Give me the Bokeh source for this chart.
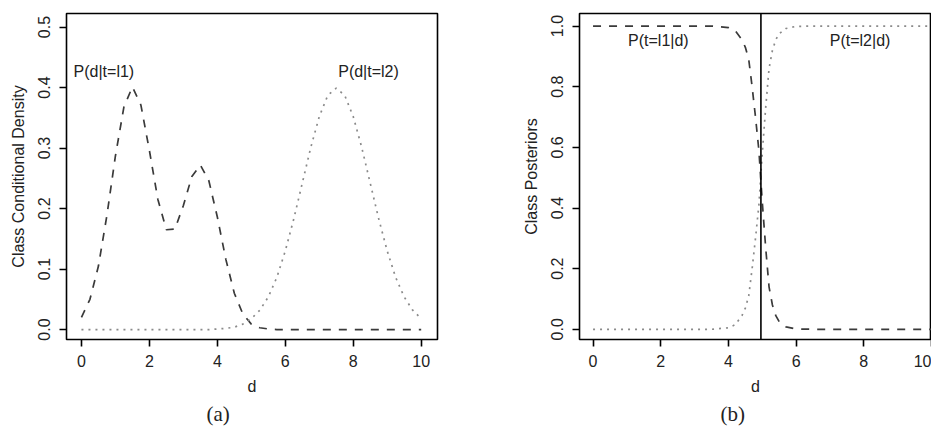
from bokeh.plotting import figure
from bokeh.layouts import row
from bokeh.models import FixedTicker, PrintfTickFormatter, Span, Title, Range1d
from bokeh.core.properties import value
from bokeh.embed import file_html
from bokeh.resources import INLINE

# ---------------- data: panel (a) class conditional densities ----------------
d_a = [0.0, 0.25, 0.5, 0.75, 1.0, 1.25, 1.5, 1.75, 2.0, 2.25, 2.5, 2.75, 3.0, 3.25,
       3.5, 3.75, 4.0, 4.25, 4.5, 4.75, 5.0, 5.25, 5.5, 5.75, 6.0, 6.25, 6.5, 6.75,
       7.0, 7.25, 7.5, 7.75, 8.0, 8.25, 8.5, 8.75, 9.0, 9.25, 9.5, 9.75, 10.0]
dens_l1 = [0.020, 0.050, 0.105, 0.189, 0.287, 0.368, 0.401, 0.371, 0.296, 0.215,
           0.165, 0.166, 0.205, 0.253, 0.272, 0.246, 0.186, 0.116, 0.060, 0.026,
           0.009, 0.003, 0.001, 0.0, 0.0, 0.0, 0.0, 0.0, 0.0, 0.0, 0.0, 0.0, 0.0,
           0.0, 0.0, 0.0, 0.0, 0.0, 0.0, 0.0, 0.0]
dens_l2 = [0.0, 0.0, 0.0, 0.0, 0.0, 0.0, 0.0, 0.0, 0.0, 0.0, 0.0, 0.0, 0.0, 0.0,
           0.0, 0.0, 0.001, 0.002, 0.004, 0.009, 0.018, 0.032, 0.054, 0.086, 0.130,
           0.183, 0.242, 0.301, 0.352, 0.387, 0.399, 0.387, 0.352, 0.301, 0.242,
           0.183, 0.130, 0.086, 0.054, 0.032, 0.018]

# ---------------- data: panel (b) class posteriors ----------------
d_b = [0.0, 0.5, 1.0, 1.5, 2.0, 2.5, 3.0, 3.5, 4.0, 4.2, 4.4, 4.5, 4.6, 4.7, 4.8,
       4.9, 5.0, 5.1, 5.2, 5.3, 5.4, 5.5, 5.7, 6.0, 6.5, 7.0, 7.5, 8.0, 8.5, 9.0,
       9.5, 10.0]
post_l1 = [1.0, 1.0, 1.0, 1.0, 1.0, 1.0, 1.0, 1.0, 0.995, 0.985, 0.955, 0.93, 0.89,
           0.80, 0.70, 0.59, 0.42, 0.27, 0.14, 0.08, 0.045, 0.025, 0.008, 0.001,
           0.0, 0.0, 0.0, 0.0, 0.0, 0.0, 0.0, 0.0]
post_l2 = [0.0, 0.0, 0.0, 0.0, 0.0, 0.0, 0.0, 0.0, 0.005, 0.015, 0.045, 0.07, 0.11,
           0.20, 0.30, 0.41, 0.58, 0.73, 0.86, 0.92, 0.955, 0.975, 0.992, 0.999,
           1.0, 1.0, 1.0, 1.0, 1.0, 1.0, 1.0, 1.0]
boundary = 4.96

# ---------------- labels ----------------
a_text = ["P(d|t=l1)", "P(d|t=l2)"]
a_text_x = [0.66, 8.45]
a_text_y = [0.426, 0.426]
b_text = ["P(t=l1|d)", "P(t=l2|d)"]
b_text_x = [1.93, 7.89]
b_text_y = [0.953, 0.953]
x_ticks = [0, 2, 4, 6, 8, 10]
a_y_ticks = [0.0, 0.1, 0.2, 0.3, 0.4, 0.5]
b_y_ticks = [0.0, 0.2, 0.4, 0.6, 0.8, 1.0]
captions = ["(a)", "(b)"]

SANS = "Liberation Sans"
SERIF = "Liberation Serif"
TXT = "#222222"
DASH_COL = "#3a3a3a"
DOT_COL = "#8a8a8a"


def style(p, ylabel, yticks):
    p.xgrid.grid_line_color = None
    p.ygrid.grid_line_color = None
    p.outline_line_color = "black"
    p.outline_line_width = 1.6
    p.background_fill_color = "white"
    p.border_fill_color = "white"
    p.xaxis.ticker = FixedTicker(ticks=x_ticks)
    p.xaxis.formatter = PrintfTickFormatter(format="%d")
    p.yaxis.ticker = FixedTicker(ticks=yticks)
    p.yaxis.formatter = PrintfTickFormatter(format="%.1f")
    for ax in (p.xaxis, p.yaxis):
        ax.axis_line_color = None
        ax.major_tick_line_color = "black"
        ax.major_tick_line_width = 1.6
        ax.major_tick_out = 7
        ax.major_tick_in = 0
        ax.minor_tick_line_color = None
        ax.major_label_text_font = SANS
        ax.major_label_text_font_size = "16px"
        ax.major_label_text_color = TXT
        ax.axis_label_text_font = SANS
        ax.axis_label_text_font_size = "16px"
        ax.axis_label_text_font_style = "normal"
        ax.axis_label_text_color = TXT
    p.xaxis.axis_label = "d"
    p.xaxis.major_label_standoff = 8
    p.xaxis.axis_label_standoff = 8
    p.yaxis.axis_label = ylabel
    p.yaxis.major_label_orientation = "vertical"
    p.yaxis.major_label_standoff = 9
    p.yaxis.axis_label_standoff = 9


def caption(p, text, offset):
    p.add_layout(Title(text=text, align="left", offset=offset, standoff=5,
                       text_font=SERIF, text_font_size="21px",
                       text_font_style="normal", text_color=TXT), "below")


# ---------------- panel (a) ----------------
pa = figure(width=470, height=428, output_backend="svg", toolbar_location=None,
            x_range=Range1d(-0.44, 10.48), y_range=Range1d(-0.0164, 0.5224),
            min_border_left=66, min_border_right=33, min_border_top=13,
            min_border_bottom=86)
style(pa, "Class Conditional Density", a_y_ticks)
pa.line(d_a, dens_l1, line_color=DASH_COL, line_width=1.7, line_dash="8 8")
pa.line(d_a, dens_l2, line_color=DOT_COL, line_width=1.7, line_dash="2 5")
pa.text(a_text_x, a_text_y, text=a_text, text_font=value(SANS),
        text_font_size="16px", text_color=TXT, text_align="center",
        text_baseline="middle")
caption(pa, captions[0], 140)

# ---------------- panel (b) ----------------
pb = figure(width=461, height=428, output_backend="svg", toolbar_location=None,
            x_range=Range1d(-0.4, 10.0), y_range=Range1d(-0.0337, 1.0415),
            min_border_left=109, min_border_right=0, min_border_top=13,
            min_border_bottom=86)
style(pb, "Class Posteriors", b_y_ticks)
pb.line(d_b, post_l1, line_color=DASH_COL, line_width=1.7, line_dash="8 8")
pb.line(d_b, post_l2, line_color=DOT_COL, line_width=1.7, line_dash="2 5")
pb.add_layout(Span(location=boundary, dimension="height", line_color="black",
                   line_width=1.6))
pb.text(b_text_x, b_text_y, text=b_text, text_font=value(SANS),
        text_font_size="16px", text_color=TXT, text_align="center",
        text_baseline="middle")
caption(pb, captions[1], 141)

layout = row(pa, pb)
open("out.html", "w").write(file_html(layout, INLINE))
